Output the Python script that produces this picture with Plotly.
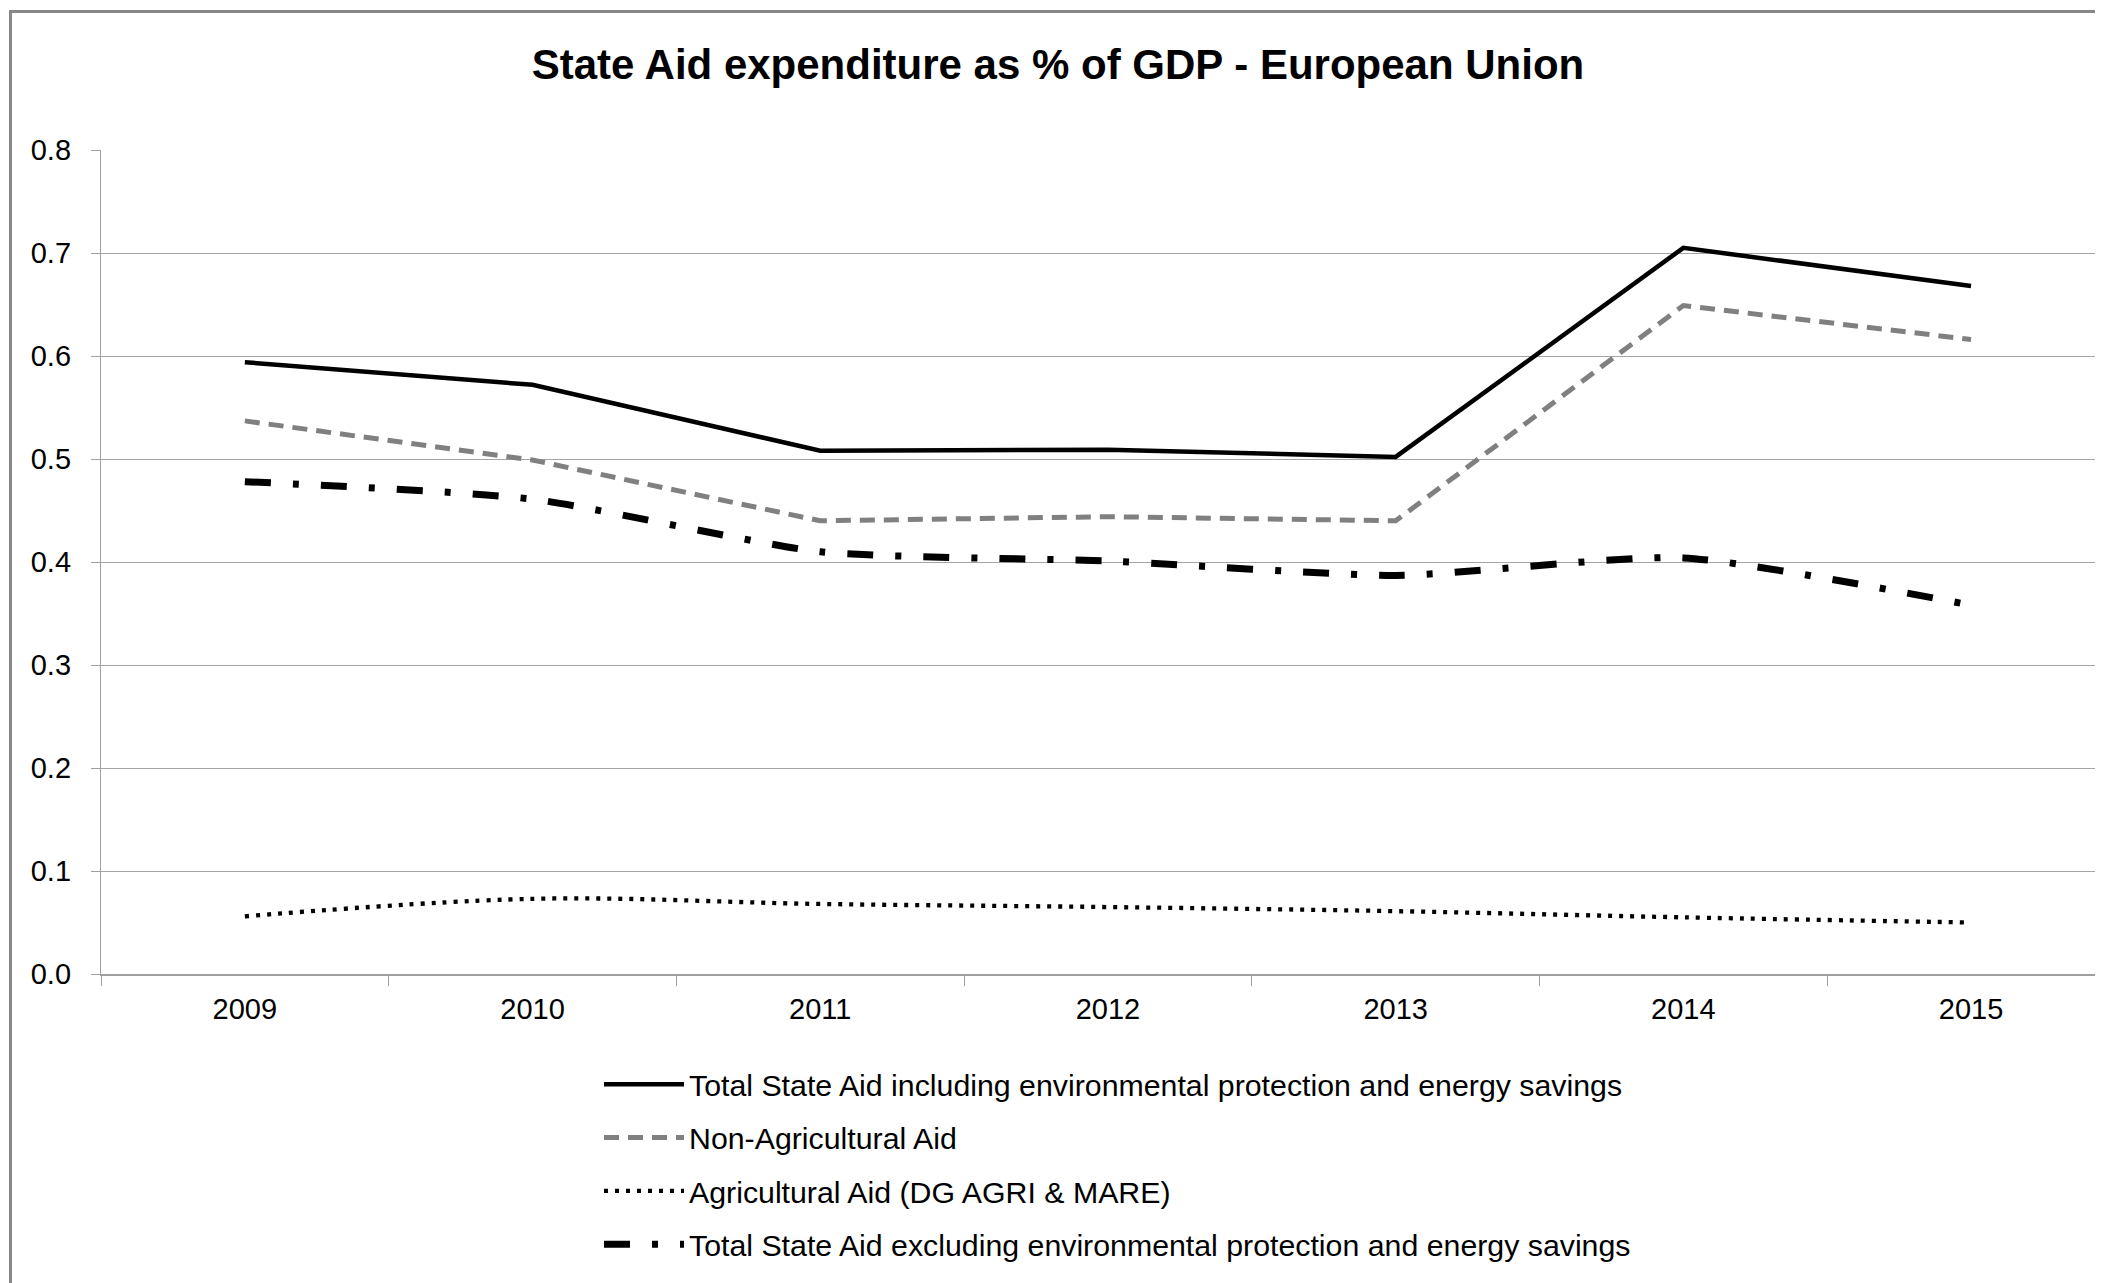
import plotly.graph_objects as go

years = ["2009", "2010", "2011", "2012", "2013", "2014", "2015"]
total_incl = [0.594, 0.572, 0.508, 0.509, 0.502, 0.705, 0.668]
non_agri = [0.537, 0.499, 0.440, 0.444, 0.440, 0.649, 0.616]
agri = [0.056, 0.073, 0.068, 0.065, 0.061, 0.055, 0.050]
total_excl = [0.478, 0.461, 0.410, 0.401, 0.387, 0.404, 0.358]

names = [
    "Total State Aid including environmental protection and energy savings",
    "Non-Agricultural Aid",
    "Agricultural Aid (DG AGRI & MARE)",
    "Total State Aid excluding environmental protection and energy savings",
]
y_ticks = [0.0, 0.1, 0.2, 0.3, 0.4, 0.5, 0.6, 0.7, 0.8]

FONT = "Liberation Sans, Arial, sans-serif"
OFF = 8  # page body margin
W, H = 2103 - OFF, 1283 - OFF
ML, MR, MT = 101 - OFF, 0, 150 - OFF
MB = H - (974 - OFF)
PW = W - ML - MR
PH = H - MT - MB


def px_x(px):  # page px -> paper
    return (px - OFF - ML) / PW


def px_y(py):
    return (H - MB - (py - OFF)) / PH


fig = go.Figure()
fig.add_trace(go.Scatter(x=years, y=total_incl, name=names[0], mode="lines",
                         legendgroup="a",
                         line=dict(color="black", width=4.5)))
fig.add_trace(go.Scatter(x=years, y=non_agri, name=names[1], mode="lines",
                         legendgroup="b",
                         line=dict(color="#808080", width=5, dash="15px,9px")))
fig.add_trace(go.Scatter(x=years, y=agri, name=names[2], mode="lines",
                         legendgroup="c",
                         line=dict(color="black", width=4.3, dash="4px,7px",
                                   shape="spline", smoothing=1)))
fig.add_trace(go.Scatter(x=years, y=total_excl, name=names[3], mode="lines",
                         legendgroup="d",
                         line=dict(color="black", width=7, dash="26px,22px,6px,22px",
                                   shape="spline", smoothing=0.6)))

# chart outer border
fig.add_shape(type="rect", xref="paper", yref="paper",
              x0=px_x(10.5), x1=px_x(2125), y0=px_y(1300), y1=px_y(11.5),
              line=dict(color="#878787", width=3), fillcolor="rgba(0,0,0,0)",
              layer="below")

fig.update_layout(
    width=W, height=H,
    margin=dict(l=ML, r=MR, t=MT, b=MB, pad=0),
    paper_bgcolor="white", plot_bgcolor="white",
    font=dict(family=FONT, size=29, color="black"),
    title=dict(text="<b>State Aid expenditure as % of GDP - European Union</b>",
               x=(1058 - OFF) / W, xanchor="center", xref="container",
               y=1 - (64 - OFF) / H, yanchor="middle", yref="container",
               font=dict(family=FONT, size=42, color="black")),
    showlegend=True,
    legend=dict(x=px_x(599), xanchor="left", y=px_y(1058), yanchor="top",
                orientation="v", itemwidth=80, tracegroupgap=11,
                font=dict(family=FONT, size=30.3, color="black"),
                bgcolor="rgba(0,0,0,0)", traceorder="grouped"),
    xaxis=dict(type="category", range=[-0.5, -0.5 + PW / 287.7],
               showgrid=False, showline=True, linecolor="#A0A0A0", linewidth=2,
               ticks="outside", tickson="boundaries", ticklen=10, tickcolor="#A0A0A0",
               tickwidth=1.3, ticklabelstandoff=8,
               tickfont=dict(family=FONT, size=29, color="black"),
               fixedrange=True),
    yaxis=dict(range=[0, 0.8], tickvals=y_ticks, tickformat=".1f",
               showgrid=True, gridcolor="#A5A5A5", gridwidth=1.3,
               showline=True, linecolor="#A0A0A0", linewidth=1.3,
               ticks="outside", ticklen=9, tickcolor="#A0A0A0", tickwidth=1.3,
               ticklabelstandoff=14, zeroline=False,
               tickfont=dict(family=FONT, size=29, color="black"),
               fixedrange=True),
)

fig.write_html("out.html")
